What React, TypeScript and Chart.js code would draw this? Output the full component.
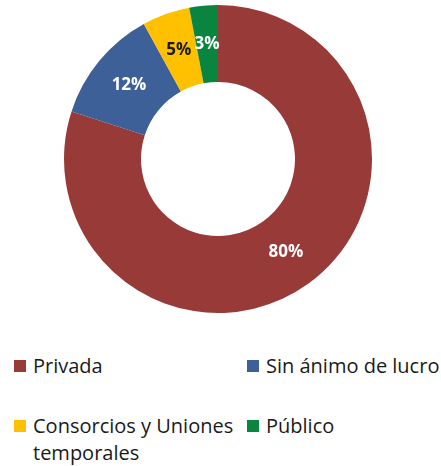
import React, { useEffect, useRef } from "react";
import { Chart, registerables } from "chart.js";

Chart.register(...registerables);

const categories = ["Privada", "Sin ánimo de lucro", "Consorcios y Uniones temporales", "Público"];
const values = [80, 12, 5, 3];
const colors = ["#983A38", "#3D6098", "#FFC000", "#0A8540"];
const labelColors = ["#FFFFFF", "#FFFFFF", "#1A1A1A", "#FFFFFF"];

const FONT = "'Open Sans', 'DejaVu Sans', sans-serif";

const labelPlugin = {
  id: "arcLabels",
  afterDatasetsDraw(chart: any) {
    const ctx = chart.ctx;
    const meta = chart.getDatasetMeta(0);
    ctx.save();
    ctx.font = `bold 17px ${FONT}`;
    ctx.textAlign = "center";
    ctx.textBaseline = "middle";
    meta.data.forEach((arc: any, i: number) => {
      const p = arc.getCenterPoint();
      ctx.fillStyle = labelColors[i];
      ctx.fillText(values[i] + "%", p.x, p.y);
    });
    ctx.restore();
  },
};

export default function App() {
  const ref = useRef<HTMLCanvasElement>(null);
  useEffect(() => {
    if (!ref.current) return;
    const chart = new Chart(ref.current, {
      type: "doughnut",
      data: {
        labels: categories,
        datasets: [
          {
            data: values,
            backgroundColor: colors,
            borderWidth: 0,
            hoverOffset: 0,
          },
        ],
      },
      options: {
        animation: false,
        responsive: false,
        cutout: "50%",
        layout: { padding: { left: 64, right: 69, top: 5, bottom: 7 } },
        plugins: {
          legend: { display: false },
          tooltip: { enabled: false },
        },
      },
      plugins: [labelPlugin],
    });
    return () => chart.destroy();
  }, []);

  const sq = (c: string) => (
    <span
      style={{
        position: "absolute",
        left: 0,
        top: 8,
        width: 12,
        height: 12,
        background: c,
      }}
    />
  );

  const item = (i: number, left: number, top: number, width: number) => (
    <div
      key={i}
      style={{
        position: "absolute",
        left,
        top,
        width,
        paddingLeft: 19,
        fontFamily: FONT,
        fontSize: 20,
        lineHeight: "27px",
        color: "#1A1A1A",
      }}
    >
      {sq(colors[i])}
      {categories[i]}
    </div>
  );

  return (
    <div
      style={{
        position: "absolute",
        left: 0,
        top: 0,
        width: 441,
        height: 466,
        background: "#FFFFFF",
        overflow: "hidden",
      }}
    >
      <canvas ref={ref} width={441} height={320} style={{ position: "absolute", left: 0, top: 0 }} />
      {item(0, 14, 352, 225)}
      {item(1, 247, 352, 200)}
      {item(2, 14, 412, 225)}
      {item(3, 247, 412, 200)}
    </div>
  );
}
